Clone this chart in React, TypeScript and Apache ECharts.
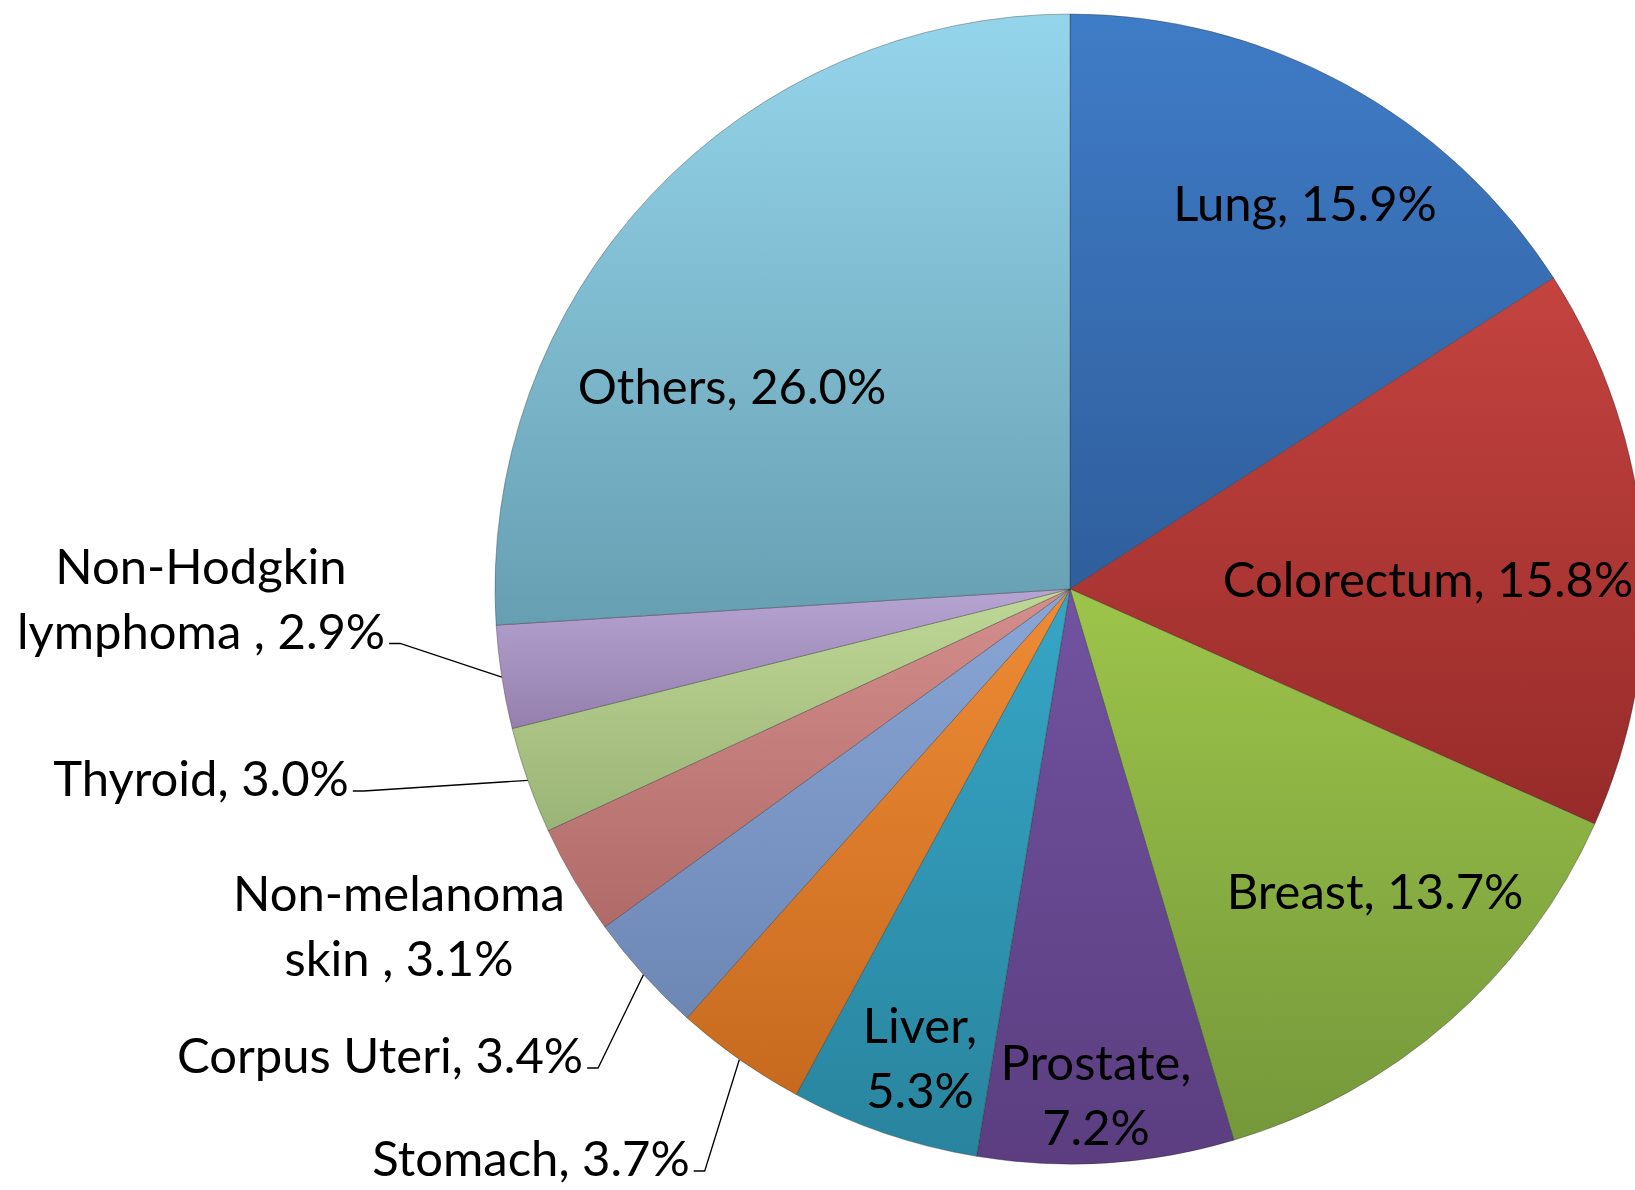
import { useEffect, useRef } from "react";
import * as echarts from "echarts";

// ---- data ----
const CATEGORIES = [
  "Lung",
  "Colorectum",
  "Breast",
  "Prostate",
  "Liver",
  "Stomach",
  "Corpus Uteri",
  "Non-melanoma\nskin ",
  "Thyroid",
  "Non-Hodgkin\nlymphoma ",
  "Others",
];
const SHARES = [15.9, 15.8, 13.7, 7.2, 5.3, 3.7, 3.4, 3.1, 3.0, 2.9, 26.0];

// label text styling choices
const BREAK_AFTER_COMMA = ["Prostate", "Liver"];
const OUTSIDE_LABELS = ["Stomach", "Corpus Uteri", "Non-melanoma\nskin ", "Thyroid", "Non-Hodgkin\nlymphoma "];
const NO_LEADER = ["Non-melanoma\nskin "];

// ---- style ----
const COLOR_TOP = [
  "#3F7CC7", "#C4433F", "#9DC44A", "#7153A0", "#36A6C6", "#EE8B35",
  "#8AA6D6", "#D48E8C", "#C0D896", "#B6A4D2", "#95D5EB",
];
const COLOR_BOTTOM = [
  "#2F5E9C", "#972B29", "#75983A", "#5B3D80", "#29849E", "#C76A1F",
  "#6C87B4", "#B06B69", "#9AB477", "#9580AD", "#679FB2",
];

// label layout (text centre per category)
const LABEL_CENTER: Record<string, [number, number]> = {
  Lung: [1305, 202],
  Colorectum: [1428, 578],
  Breast: [1375, 890],
  Prostate: [1096, 1093],
  Liver: [920, 1056],
  Stomach: [531, 1157],
  "Corpus Uteri": [380, 1054],
  "Non-melanoma\nskin ": [399, 924],
  Thyroid: [201, 777],
  "Non-Hodgkin\nlymphoma ": [201, 597],
  Others: [732, 385],
};

const FONT = "Lato, 'Open Sans', sans-serif";
const FONT_SIZE = 49;
const LINE_H = 65;

export default function App() {
  const ref = useRef<HTMLDivElement>(null);

  useEffect(() => {
    if (!ref.current) return;
    const chart = echarts.init(ref.current, null, { renderer: "svg" });

    const data = CATEGORIES.map((name, i) => {
      const outside = OUTSIDE_LABELS.includes(name);
      return {
        name,
        value: SHARES[i],
        itemStyle: {
          color: new echarts.graphic.LinearGradient(0, 0, 0, 1, [
            { offset: 0, color: COLOR_TOP[i] },
            { offset: 1, color: COLOR_BOTTOM[i] },
          ]),
        },
        label: { position: outside ? "outside" : "inside" },
        labelLine: {
          show: outside && !NO_LEADER.includes(name),
          length: 20,
          length2: 10,
        },
      };
    });

    chart.setOption({
      animation: false,
      backgroundColor: "#ffffff",
      series: [
        {
          type: "pie",
          center: [1070, 589],
          radius: 575,
          startAngle: 90,
          clockwise: true,
          avoidLabelOverlap: false,
          data,
          itemStyle: {
            borderColor: "rgba(40,40,40,0.35)",
            borderWidth: 1,
          },
          label: {
            show: true,
            color: "#000000",
            fontFamily: FONT,
            fontSize: FONT_SIZE,
            lineHeight: LINE_H,
            align: "center",
            formatter: (p: any) => {
              const sep = BREAK_AFTER_COMMA.includes(p.name) ? "\n" : " ";
              return `${p.name},${sep}${Number(p.value).toFixed(1)}%`;
            },
          },
          labelLine: {
            lineStyle: { color: "#000000", width: 1.3 },
          },
          labelLayout: (params: any) => {
            const name = CATEGORIES[params.dataIndex];
            const c = LABEL_CENTER[name];
            if (!c) return {};
            const out: any = {
              x: c[0],
              y: c[1],
              align: "center",
              verticalAlign: "middle",
            };
            const pts = params.labelLinePoints;
            if (pts && pts.length && OUTSIDE_LABELS.includes(name) && !NO_LEADER.includes(name)) {
              const w = params.labelRect.width;
              const h = params.labelRect.height;
              const right = c[0] + w / 2;
              const lastLineCenter = c[1] + h / 2 - LINE_H / 2;
              const yLine = lastLineCenter + 14;
              const end = [right + 4, yLine];
              const bend = [right + 15, yLine];
              out.labelLinePoints = [pts[0], bend, end];
            }
            return out;
          },
        },
      ],
    });

    return () => chart.dispose();
  }, []);

  return (
    <div
      ref={ref}
      style={{ position: "fixed", left: 0, top: 0, width: 1635, height: 1190, background: "#fff" }}
    />
  );
}
